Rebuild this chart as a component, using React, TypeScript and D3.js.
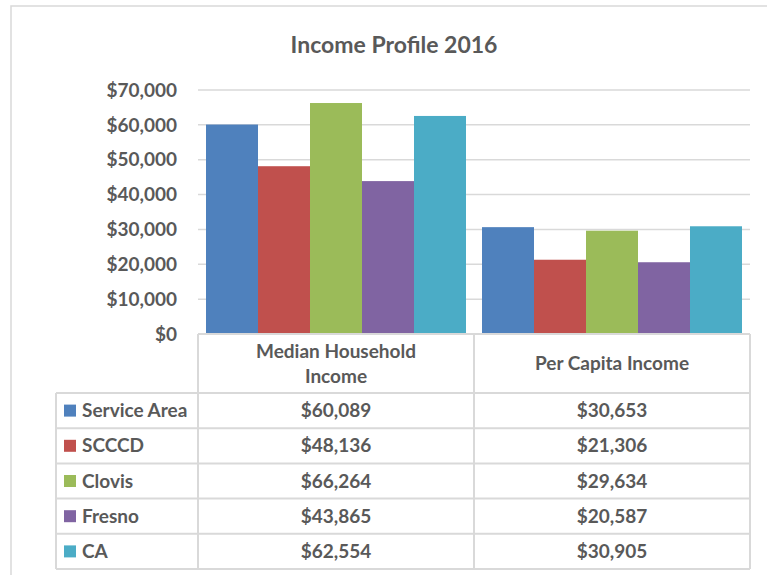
import React from "react";
import * as d3 from "d3";

const categories = ["Median Household Income", "Per Capita Income"];
const categoryLines = [["Median Household", "Income"], ["Per Capita Income"]];
const seriesNames = ["Service Area", "SCCCD", "Clovis", "Fresno", "CA"];
const medianHousehold = [60089, 48136, 66264, 43865, 62554];
const perCapita = [30653, 21306, 29634, 20587, 30905];
const seriesColors = ["#4F81BD", "#C0504D", "#9BBB59", "#8064A2", "#4BACC6"];
const yTicks = [0, 10000, 20000, 30000, 40000, 50000, 60000, 70000];

const W = 767;
const H = 575;
const FONT = "Lato, 'Open Sans', 'DejaVu Sans', sans-serif";
const TEXT = "#595959";
const GRID = "#d9d9d9";
const FS = 19;

export default function App() {
  const values = [medianHousehold, perCapita];
  const plotLeft = 198;
  const plotRight = 750;
  const plotTop = 90;
  const plotBottom = 334;

  const x = d3
    .scaleBand<string>()
    .domain(categories)
    .range([plotLeft, plotRight])
    .paddingInner(0.058)
    .paddingOuter(0.029);
  const xs = d3.scaleBand<string>().domain(seriesNames).range([0, x.bandwidth()]).padding(0);
  const y = d3.scaleLinear().domain([0, 70000]).range([plotBottom, plotTop]);
  const fmt = (v: number) => "$" + d3.format(",")(v);

  const headerBottom = 393;
  const rowH = 35.2;
  const tableLeft = 56;
  const mid = (plotLeft + plotRight) / 2;
  const cols = [plotLeft, mid, plotRight];

  return (
    <svg
      width={W}
      height={H}
      style={{ position: "absolute", left: 0, top: 0, background: "#fff" }}
      fontFamily={FONT}
    >
      <rect x={0} y={0} width={W} height={H} fill="#fff" />
      <path d={`M11,${H + 2} V6 H${W + 2}`} fill="none" stroke={GRID} strokeWidth={1.5} />
      <text x={394} y={53} textAnchor="middle" fontSize={23} fontWeight="bold" fill={TEXT}>
        Income Profile 2016
      </text>
      {yTicks.slice(1).map((t) => (
        <line key={t} x1={plotLeft} x2={plotRight} y1={y(t)} y2={y(t)} stroke={GRID} strokeWidth={1.5} />
      ))}
      {yTicks.map((t) => (
        <text
          key={t}
          x={177}
          y={y(t)}
          dy="0.35em"
          textAnchor="end"
          fontSize={FS}
          fontWeight="bold"
          fill={TEXT}
        >
          {fmt(t)}
        </text>
      ))}
      {categories.map((c, ci) =>
        seriesNames.map((s, si) => {
          const v = values[ci][si];
          return (
            <rect
              key={c + s}
              x={x(c)! + xs(s)!}
              y={y(v)}
              width={xs.bandwidth()}
              height={y(0) - y(v)}
              fill={seriesColors[si]}
            />
          );
        })
      )}
      <g stroke={GRID} strokeWidth={2} fill="none">
        <line x1={plotLeft} x2={plotRight} y1={plotBottom} y2={plotBottom} />
        {cols.map((cx, i) => (
          <line key={i} x1={cx} x2={cx} y1={plotBottom} y2={headerBottom + rowH * 5} />
        ))}
        <line x1={tableLeft} x2={tableLeft} y1={headerBottom} y2={headerBottom + rowH * 5} />
        {d3.range(6).map((i) => (
          <line
            key={i}
            x1={tableLeft}
            x2={plotRight}
            y1={headerBottom + rowH * i}
            y2={headerBottom + rowH * i}
          />
        ))}
      </g>
      {categoryLines.map((lines, ci) => {
        const cx = (cols[ci] + cols[ci + 1]) / 2;
        const cy = (plotBottom + headerBottom) / 2;
        return lines.map((ln, li) => (
          <text
            key={ci + "-" + li}
            x={cx}
            y={cy + (li - (lines.length - 1) / 2) * 25}
            dy="0.35em"
            textAnchor="middle"
            fontSize={FS}
            fontWeight="bold"
            fill={TEXT}
          >
            {ln}
          </text>
        ));
      })}
      {seriesNames.map((s, si) => {
        const cy = headerBottom + rowH * si + rowH / 2;
        return (
          <g key={s}>
            <rect x={64} y={cy - 6} width={12} height={12} fill={seriesColors[si]} />
            <text x={82} y={cy} dy="0.35em" fontSize={FS} fontWeight="bold" fill={TEXT}>
              {s}
            </text>
            {categories.map((c, ci) => (
              <text
                key={c}
                x={(cols[ci] + cols[ci + 1]) / 2}
                y={cy}
                dy="0.35em"
                textAnchor="middle"
                fontSize={FS}
                fontWeight="bold"
                fill={TEXT}
              >
                {fmt(values[ci][si])}
              </text>
            ))}
          </g>
        );
      })}
    </svg>
  );
}
